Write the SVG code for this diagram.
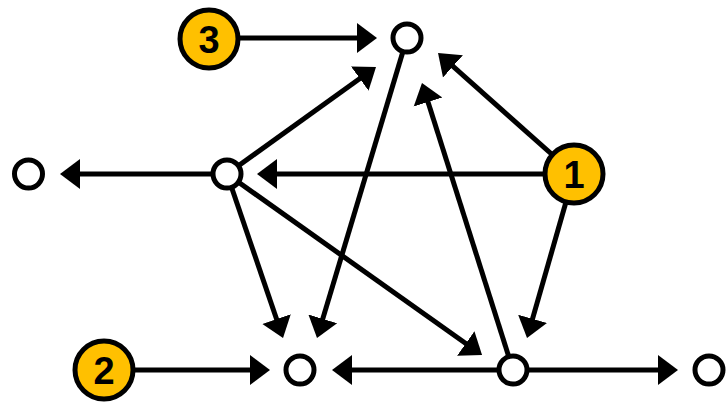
<svg xmlns="http://www.w3.org/2000/svg" width="726" height="404" viewBox="0 0 726 404">
<style>
.e{stroke:#000;stroke-width:5;fill:none;marker-end:url(#ah)}
.s{fill:#fff;stroke:#000;stroke-width:5}
.y{fill:#FFC000;stroke:#000;stroke-width:5}
.t{font-family:"Liberation Sans",Arial,sans-serif;font-weight:bold;font-size:38px;text-anchor:middle;fill:#000}
</style>
<defs>
<marker id="ah" markerUnits="userSpaceOnUse" viewBox="0 0 21 32" markerWidth="21" markerHeight="32" refX="10" refY="16" orient="auto">
<path d="M0,1 L20,16 L0,31 z" fill="#000"/>
</marker>
</defs>
<rect width="726" height="404" fill="#fff"/>
<g id="connectors">
<line class="e" x1="209" y1="38" x2="367" y2="38"/>
<line class="e" x1="574" y1="174" x2="445.5" y2="59.7"/>
<line class="e" x1="574" y1="174" x2="267" y2="174"/>
<line class="e" x1="574" y1="174" x2="529.8" y2="328.4"/>
<line class="e" x1="227" y1="174" x2="70" y2="174"/>
<line class="e" x1="227" y1="174" x2="367.9" y2="72.8"/>
<line class="e" x1="227" y1="174" x2="279.8" y2="328.5"/>
<line class="e" x1="227" y1="174" x2="473.9" y2="349.2"/>
<line class="e" x1="407" y1="38" x2="319.9" y2="328.4"/>
<line class="e" x1="513" y1="370" x2="425" y2="92.5"/>
<line class="e" x1="513" y1="370" x2="342" y2="370"/>
<line class="e" x1="513" y1="370" x2="668" y2="370"/>
<line class="e" x1="104" y1="370" x2="260" y2="370"/>
</g>
<g id="nA"><circle class="s" cx="407" cy="38" r="14"/></g>
<g id="nB"><circle class="s" cx="28.5" cy="174" r="14"/></g>
<g id="nC"><circle class="s" cx="227" cy="174" r="14"/></g>
<g id="nD"><circle class="s" cx="300" cy="370" r="14"/></g>
<g id="nE"><circle class="s" cx="513" cy="370" r="14"/></g>
<g id="nF"><circle class="s" cx="709" cy="370" r="14"/></g>
<g id="n1"><circle class="y" cx="574" cy="174" r="29"/><text class="t" x="574" y="187.5">1</text></g>
<g id="n2"><circle class="y" cx="104" cy="370" r="29"/><text class="t" x="104" y="383.5">2</text></g>
<g id="n3"><circle class="y" cx="209" cy="39" r="29"/><text class="t" x="209" y="52.5">3</text></g>
</svg>
